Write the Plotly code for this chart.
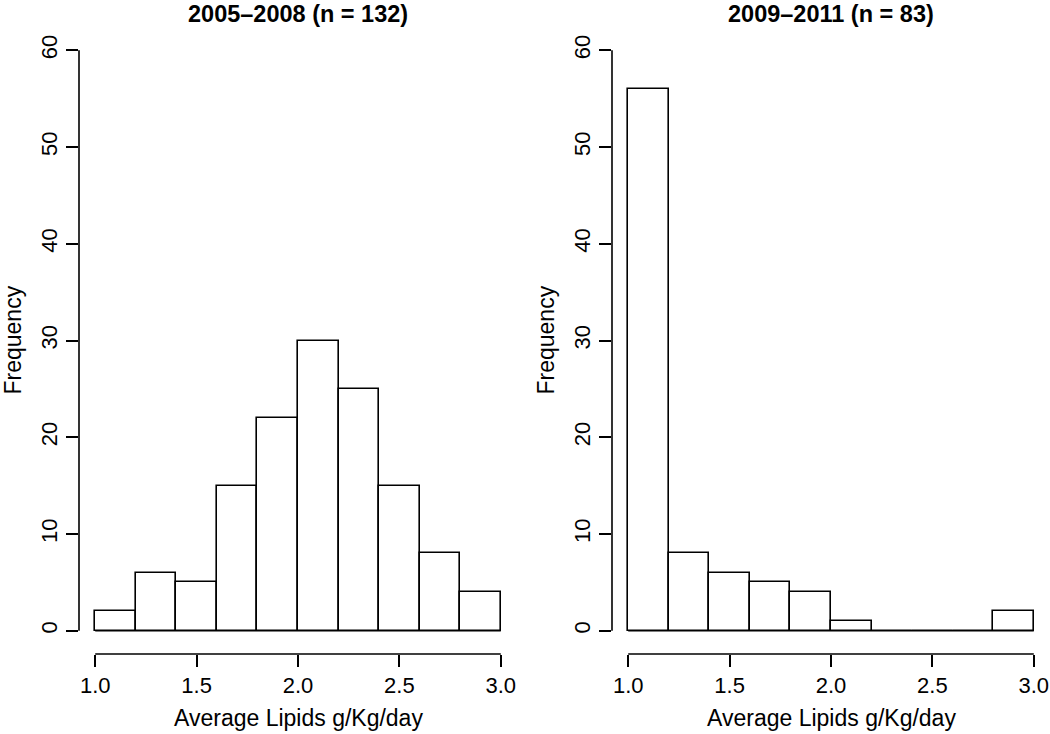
import plotly.graph_objects as go

# ---- data ----
bin_edges = [1.0, 1.2, 1.4, 1.6, 1.8, 2.0, 2.2, 2.4, 2.6, 2.8, 3.0]
counts_2005_2008 = [2, 6, 5, 15, 22, 30, 25, 15, 8, 4]
counts_2009_2011 = [56, 8, 6, 5, 4, 1, 0, 0, 0, 2]
panel_titles = ["2005–2008 (n = 132)", "2009–2011 (n = 83)"]
x_ticks = [1.0, 1.5, 2.0, 2.5, 3.0]
x_tick_labels = ["1.0", "1.5", "2.0", "2.5", "3.0"]
y_ticks = [0, 10, 20, 30, 40, 50, 60]
y_tick_labels = ["0", "10", "20", "30", "40", "50", "60"]
x_title = "Average Lipids g/Kg/day"
y_title = "Frequency"

# ---- layout constants ----
W, H = 1050, 734
ML, MR, MT, MB = 79, 0, 27, 80
PW, PH = W - ML - MR, H - MT - MB
FONT = "Liberation Sans, Arial, Helvetica, sans-serif"
LW = 1.6
domains = [[0.0, (517 - ML) / PW], [(612 - ML) / PW, 1.0]]

centers = [(a + b) / 2 for a, b in zip(bin_edges[:-1], bin_edges[1:])]
widths = [b - a for a, b in zip(bin_edges[:-1], bin_edges[1:])]

fig = go.Figure()
shapes = []
annotations = []
for i, counts in enumerate([counts_2005_2008, counts_2009_2011]):
    xa = "x" if i == 0 else "x2"
    ya = "y" if i == 0 else "y2"
    fig.add_trace(go.Bar(
        x=centers, y=counts, width=widths, base=0,
        marker=dict(color="white", line=dict(color="black", width=LW)),
        xaxis=xa, yaxis=ya, showlegend=False, hoverinfo="x+y",
    ))
    # baseline (R draws zero-height bins as lines)
    fig.add_trace(go.Scatter(
        x=[bin_edges[0], bin_edges[-1]], y=[0, 0], mode="lines",
        line=dict(color="black", width=LW), xaxis=xa, yaxis=ya,
        showlegend=False, hoverinfo="skip",
    ))
    # detached R-style axis lines
    shapes.append(dict(type="line", xref=xa, yref="paper",
                       x0=x_ticks[0], x1=x_ticks[-1], y0=0, y1=0,
                       line=dict(color="black", width=LW)))
    shapes.append(dict(type="line", xref="paper", yref=ya,
                       x0=domains[i][0], x1=domains[i][0],
                       y0=y_ticks[0], y1=y_ticks[-1],
                       line=dict(color="black", width=LW)))
    cx = (domains[i][0] + domains[i][1]) / 2
    annotations.append(dict(text="<b>" + panel_titles[i] + "</b>", xref="paper", yref="paper",
                            x=cx, y=1 + (MT - 14) / PH, xanchor="center", yanchor="middle",
                            showarrow=False, font=dict(size=23.5, color="black", family=FONT)))
    annotations.append(dict(text=x_title, xref="paper", yref="paper",
                            x=cx, y=-(718 - (MT + PH)) / PH, xanchor="center", yanchor="middle",
                            showarrow=False, font=dict(size=23, color="black", family=FONT)))
    yt_x = (12 - ML) / PW if i == 0 else (12 + 533 - ML) / PW
    annotations.append(dict(text=y_title, xref="paper", yref="paper",
                            x=yt_x, y=0.5, xanchor="center", yanchor="middle", textangle=-90,
                            showarrow=False, font=dict(size=23, color="black", family=FONT)))

axis_common_x = dict(range=[0.92, 3.08], tickmode="array", tickvals=x_ticks, ticktext=x_tick_labels,
                     ticks="outside", ticklen=12, tickwidth=LW, tickcolor="black",
                     showline=False, showgrid=False, zeroline=False, fixedrange=True,
                     tickfont=dict(size=22, color="black", family=FONT))
axis_common_y = dict(range=[-2.4, 62.4], tickmode="array", tickvals=y_ticks, ticktext=y_tick_labels,
                     ticks="outside", ticklen=12, tickwidth=LW, tickcolor="black", tickangle=-90,
                     showline=False, showgrid=False, zeroline=False, fixedrange=True,
                     tickfont=dict(size=22, color="black", family=FONT))

fig.update_layout(
    width=W, height=H,
    margin=dict(l=ML, r=MR, t=MT, b=MB, pad=0),
    paper_bgcolor="white", plot_bgcolor="white",
    xaxis=dict(domain=domains[0], anchor="y", **axis_common_x),
    xaxis2=dict(domain=domains[1], anchor="y2", **axis_common_x),
    yaxis=dict(anchor="x", **axis_common_y),
    yaxis2=dict(anchor="x2", **axis_common_y),
    shapes=shapes, annotations=annotations,
    bargap=0, showlegend=False,
)

fig.write_html(
    "out.html",
    config={"displayModeBar": False},
    post_script="document.body.style.margin='0';document.body.style.padding='0';"
                "document.body.style.overflow='hidden';",
)
